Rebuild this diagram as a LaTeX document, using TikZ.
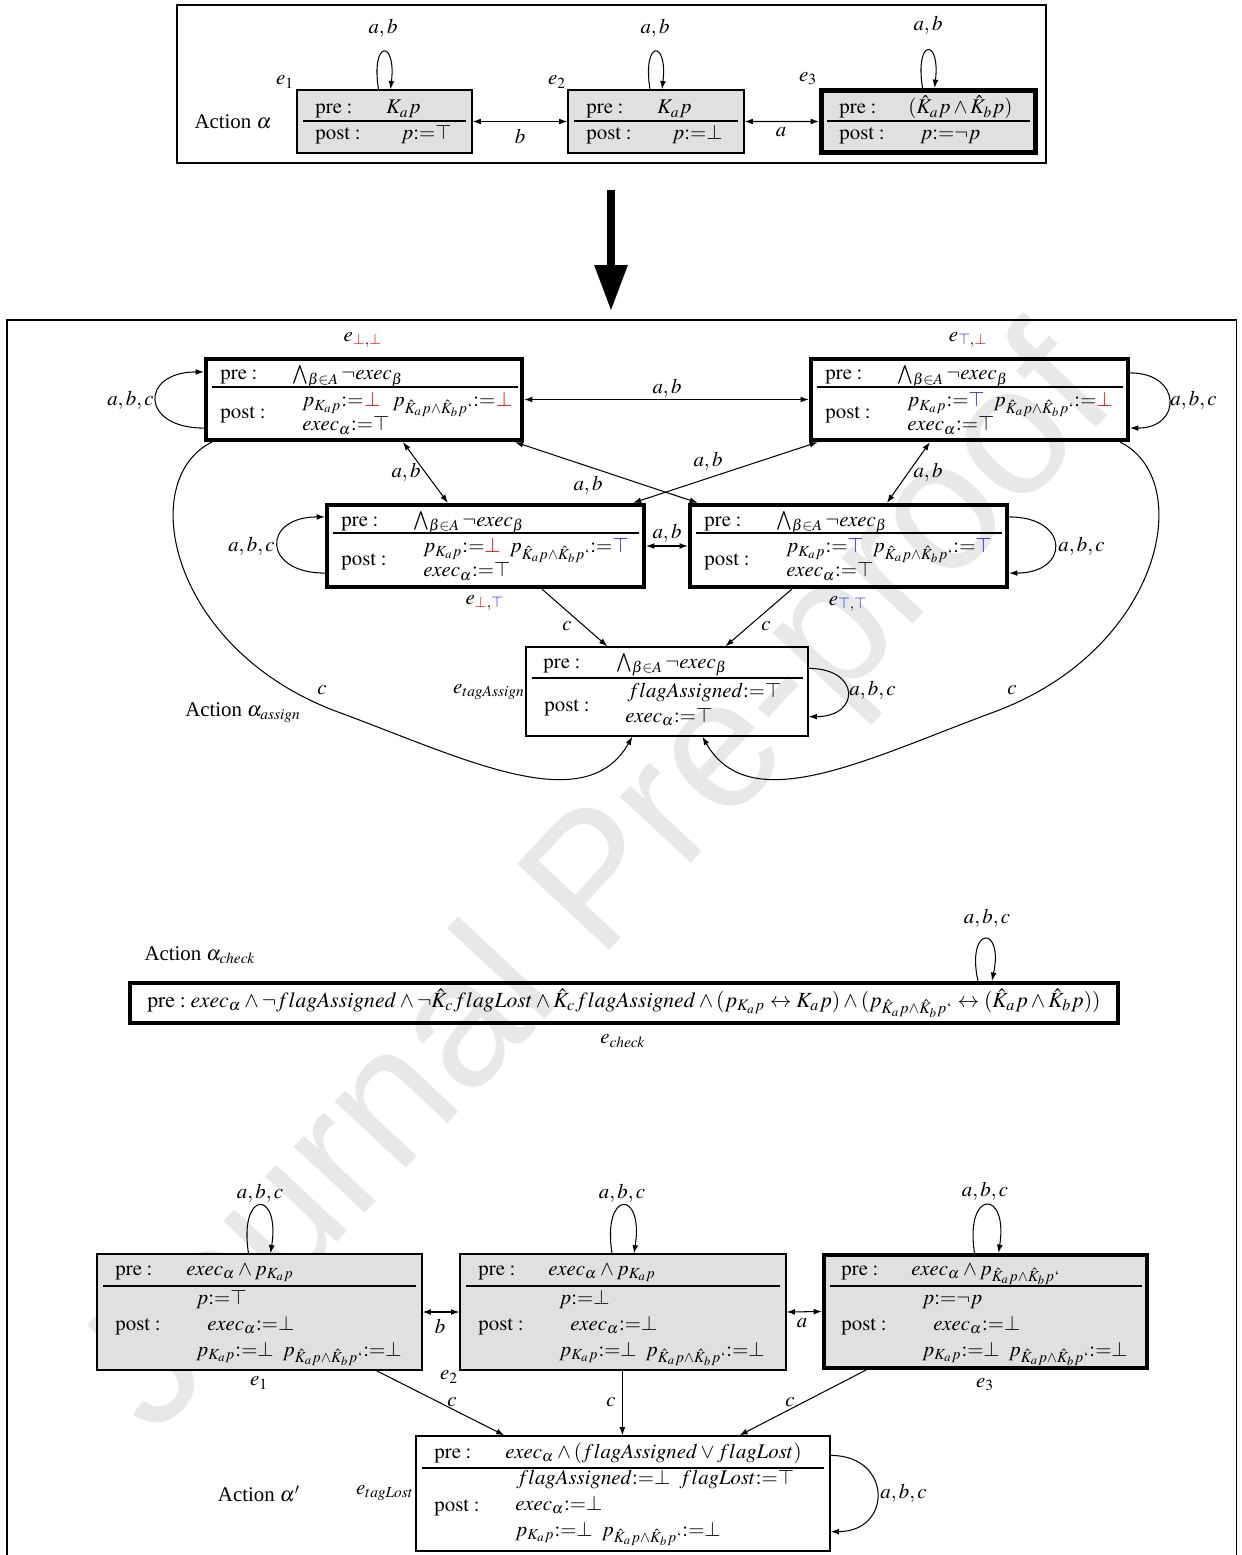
\documentclass[tikz,border=0pt]{standalone}
\usepackage{mathptmx}
\usepackage[no-math]{fontspec}
\setmainfont{Liberation Serif}
\newfontfamily\wmfont{Liberation Sans}
\usetikzlibrary{fit,calc,arrows.meta}
\definecolor{myred}{RGB}{240,0,0}
\definecolor{myblue}{RGB}{30,30,250}
\newcommand{\mypK}{p_{K_a p}}
\newcommand{\mypKK}{p_{\hat{K}_a p\wedge\hat{K}_b p`}}
\newcommand{\myasg}{{:=}}
\newcommand{\rbot}{\mathord{\textcolor{myred}{\bot}}}
\newcommand{\btop}{\mathord{\textcolor{myblue}{\top}}}
\newcommand{\mywedge}{\bigwedge_{\beta\in A}\neg exec_\beta}
\begin{document}
\begin{tikzpicture}[x=0.48pt,y=-0.48pt,
  bx/.style={draw, line width=0.6pt, inner sep=0pt},
  gbx/.style={bx, fill=black!12},
  tbx/.style={draw, line width=2pt, inner sep=0pt},
  ttbx/.style={tbx, fill=black!12},
  tx/.style={anchor=base west, inner sep=0pt},
  lb/.style={inner sep=0pt},
  sepl/.style={line width=0.5pt},
  con/.style={line width=0.5pt, -{Latex[length=4pt,width=2.8pt]}},
  bcon/.style={line width=0.5pt, {Latex[length=4pt,width=2.8pt]}-{Latex[length=4pt,width=2.8pt]}},
]
\useasboundingbox (0,0) rectangle (1241,1555);
% watermark
\node[rotate=47, text=black!9, font=\wmfont\fontsize{88}{88}\selectfont, inner sep=0pt] (wm) at (603,888) {Journal Pre-proof};

% ===== top panel =====
\draw[line width=0.5pt] (177,5) rectangle (1046,163);
\node[gbx, fit={(297,90) (472,153)}] (a1) {};
\node[gbx, fit={(568,90) (744,153)}] (a2) {};
\node[ttbx, line width=2.4pt, fit={(821.5,90.5) (1035.5,152.5)}] (a3) {};
\draw[sepl] (303,121) -- (466,121);
\draw[sepl] (574,121) -- (738,121);
\draw[sepl] (827,121) -- (1030,121);
\node[tx] (a1pre) at (315,114) {$\mathrm{pre}:$};
\node[tx] (a1pf) at (386,114) {$K_a p$};
\node[tx] (a1po) at (315,140) {$\mathrm{post}:$};
\node[tx] (a1pp) at (401,140) {$p\myasg\top$};
\node[tx] (a2pre) at (586,114) {$\mathrm{pre}:$};
\node[tx] (a2pf) at (657,114) {$K_a p$};
\node[tx] (a2po) at (586,140) {$\mathrm{post}:$};
\node[tx] (a2pp) at (672,140) {$p\myasg\bot$};
\node[tx] (a3pre) at (839,114) {$\mathrm{pre}:$};
\node[tx] (a3pf) at (908,114) {$(\hat{K}_a p\wedge\hat{K}_b p)$};
\node[tx] (a3po) at (839,140) {$\mathrm{post}:$};
\node[tx] (a3pp) at (920,140) {$p\myasg\neg p$};
\node[lb] (a1l) at (285,82) {$e_1$};
\node[lb] (a2l) at (557,82) {$e_2$};
\node[lb] (a3l) at (808,79) {$e_3$};
\draw[con] ($(a1.north)+(-6,0)$) .. controls +(-8,-50) and +(6,-50) .. ($(a1.north)+(6,0)$);
\draw[con] ($(a2.north)+(-6,0)$) .. controls +(-8,-50) and +(6,-50) .. ($(a2.north)+(6,0)$);
\draw[con] ($(a3.north)+(-6,0)$) .. controls +(-8,-50) and +(6,-50) .. ($(a3.north)+(6,0)$);
\node[lb] (a1ab) at (383,28) {$a,b$};
\node[lb] (a2ab) at (655,28) {$a,b$};
\node[lb] (a3ab) at (928,25) {$a,b$};
\draw[bcon] (a1.east) -- (a2.west);
\draw[bcon] (a2.east) -- (a3.west);
\node[lb] (a12l) at (520,136) {$b$};
\node[lb] (a23l) at (781,132) {$a$};
\node[lb] (actA) at (233,122) {Action $\alpha$};

% big arrow
\coordinate (bigA) at (611,190);
\coordinate (bigB) at (611,311);
\draw[line width=3.8pt, -{Triangle[length=22pt,width=15pt]}] (bigA) -- (bigB);

% ===== bottom panel =====
\draw[line width=0.5pt] (7,320) rectangle (1236,1570);

% upper group
\node[tbx, fit={(206,359) (522,440)}] (eBB) {};
\node[tbx, fit={(811,359) (1128,440)}] (eTB) {};
\node[tbx, fit={(327,505) (644,587)}] (eBT) {};
\node[tbx, fit={(690,505) (1007,587)}] (eTT) {};
\node[bx, fit={(526,647) (808,736)}] (tA) {};

\node[lb] (bbl) at (363,340) {$e_{\rbot,\rbot}$};
\node[lb] (tbl) at (968,340) {$e_{\btop,\rbot}$};
\node[lb] (btl) at (485,603) {$e_{\rbot,\btop}$};
\node[lb] (ttl) at (848,604) {$e_{\btop,\btop}$};

\draw[sepl] (212,387) -- (518,387);
\node[tx] (bbpre) at (220,380) {$\mathrm{pre}:$};
\node[tx] (bbpf) at (292,380) {$\mywedge$};
\node[tx] (bbpo) at (220,419) {$\mathrm{post}:$};
\node[tx] (bbr1a) at (302,407) {$\mypK\myasg$};
\node[tx, text=myred] (bbr1b) at (bbr1a.base east) {$\bot$};
\node[tx] (bbr1c) at ([xshift=5.5pt]bbr1b.base east) {$\mypKK\myasg$};
\node[tx, text=myred] (bbr1d) at (bbr1c.base east) {$\bot$};
\node[tx] (bbr2) at (302,431) {$exec_\alpha\myasg\top$};

\draw[sepl] (817,387) -- (1123,387);
\node[tx] (tbpre) at (825,380) {$\mathrm{pre}:$};
\node[tx] (tbpf) at (897,380) {$\mywedge$};
\node[tx] (tbpo) at (825,419) {$\mathrm{post}:$};
\node[tx] (tbr1) at (907,407) {$\mypK\myasg\btop\;\;\mypKK\myasg\rbot$};
\node[tx] (tbr2) at (907,431) {$exec_\alpha\myasg\top$};

\draw[sepl] (333,533) -- (639,533);
\node[tx] (btpre) at (341,526) {$\mathrm{pre}:$};
\node[tx] (btpf) at (413,526) {$\mywedge$};
\node[tx] (btpo) at (341,565) {$\mathrm{post}:$};
\node[tx] (btr1) at (423,553) {$\mypK\myasg\rbot\;\;\mypKK\myasg\btop$};
\node[tx] (btr2) at (423,577) {$exec_\alpha\myasg\top$};

\draw[sepl] (696,533) -- (1002,533);
\node[tx] (ttpre) at (704,526) {$\mathrm{pre}:$};
\node[tx] (ttpf) at (776,526) {$\mywedge$};
\node[tx] (ttpo) at (704,565) {$\mathrm{post}:$};
\node[tx] (ttr1) at (786,553) {$\mypK\myasg\btop\;\;\mypKK\myasg\btop$};
\node[tx] (ttr2) at (786,577) {$exec_\alpha\myasg\top$};

\draw[sepl] (532,678) -- (803,678);
\node[tx] (tApre) at (543,668) {$\mathrm{pre}:$};
\node[tx] (tApf) at (616,668) {$\mywedge$};
\node[tx] (tApo) at (544,711) {$\mathrm{post}:$};
\node[tx] (tAr1) at (627,697) {$flagAssigned\myasg\top$};
\node[tx] (tAr2) at (625,722) {$exec_\alpha\myasg\top$};
\node[lb] (tAl) at (489,692) {$e_{tagAssign}$};

% loops
\draw[con] ($(eBB.south west)+(0,-14)$) .. controls +(-64,0) and +(-64,0) .. ($(eBB.north west)+(0,15)$);
\node[lb, anchor=east] (bbab) at (154,400) {$a,b,c$};
\draw[con] ($(eTB.north east)+(0,16)$) .. controls +(52,0) and +(52,0) .. ($(eTB.south east)+(0,-14)$);
\node[lb, anchor=west] (tbab) at (1170,400) {$a,b,c$};
\draw[con] ($(eBT.south west)+(0,-16)$) .. controls +(-63,0) and +(-63,0) .. ($(eBT.north west)+(0,14)$);
\node[lb, anchor=east] (btab) at (275,546) {$a,b,c$};
\draw[con] ($(eTT.north east)+(0,14)$) .. controls +(61,0) and +(61,0) .. ($(eTT.south east)+(0,-16)$);
\node[lb, anchor=west] (ttab) at (1058,546) {$a,b,c$};
\draw[con] ($(tA.north east)+(0,22)$) .. controls +(52,0) and +(52,0) .. ($(tA.south east)+(0,-20)$);
\node[lb, anchor=west] (tAab) at (849,690) {$a,b,c$};

% edges
\draw[bcon] (eBB.east) -- (eTB.west);
\node[lb] (e1ab) at (667,388) {$a,b$};
\draw[bcon] (eBT.east) -- (eTT.west);
\node[lb] (e2ab) at (667,533) {$a,b$};
\draw[bcon] ($(eBB.south west)+(199,0)$) -- ($(eBT.north west)+(123,0)$);
\node[lb] (e3ab) at (406,472) {$a,b$};
\draw[bcon] ($(eTB.south west)+(121,0)$) -- ($(eTT.north west)+(199,0)$);
\node[lb] (e4ab) at (928,472) {$a,b$};
\draw[bcon] ($(eBB.south west)+(311,0)$) -- ($(eTT.north west)+(10,0)$);
\node[lb] (e5ab) at (588,485) {$a,b$};
\draw[bcon] ($(eTB.south west)+(9,0)$) -- ($(eBT.north west)+(308,0)$);
\node[lb] (e6ab) at (708,461) {$a,b$};
\draw[con] ($(eBT.south west)+(217,0)$) -- ($(tA.north west)+(82,0)$);
\node[lb] (e7c) at (567,626) {$c$};
\draw[con] ($(eTT.south west)+(104,0)$) -- ($(tA.north west)+(200,0)$);
\node[lb] (e8c) at (766,626) {$c$};
\draw[con] ($(eBB.south west)+(8,0)$) .. controls (135,480) and (170,650) .. (338,712) .. controls (464,758.5) and (585,820) .. ($(tA.south west)+(107,0)$);
\node[lb] (e9c) at (322,690) {$c$};
\draw[con] ($(eTB.south east)+(-10,0)$) .. controls (1197,480) and (1162,650) .. (994,712) .. controls (868,758.5) and (750,820) .. ($(tA.south west)+(177,0)$);
\node[lb] (e10c) at (1012,690) {$c$};
\node[lb] (actAs) at (243,713) {Action $\alpha_{assign}$};

% check
\node[lb] (actCh) at (200,955) {Action $\alpha_{check}$};
\node[tbx, fit={(130,983) (1118,1023)}] (ec) {};
\node[lb, font=\fontsize{10.4}{12.5}\selectfont] (ect) at (ec.center) {$\mathrm{pre}: exec_\alpha\wedge\neg flagAssigned\wedge\neg\hat{K}_c flagLost\wedge\hat{K}_c flagAssigned\wedge(\mypK\leftrightarrow K_a p)\wedge(\mypKK\leftrightarrow(\hat{K}_a p\wedge\hat{K}_b p))$};
\draw[con] ($(ec.north west)+(850,0)$) .. controls +(-12,-56) and +(12,-56) .. ($(ec.north west)+(864,0)$);
\node[lb] (ecab) at (987,918) {$a,b,c$};
\node[lb] (ecl) at (623,1041) {$e_{check}$};

% lower group
\node[gbx, fit={(97,1254) (422,1370)}] (b1) {};
\node[gbx, fit={(460,1254) (786,1370)}] (b2) {};
\node[ttbx, fit={(824,1255) (1147,1368)}] (b3) {};
\node[bx, fit={(416,1436) (830,1551)}] (tL) {};

\draw[sepl] (103,1286) -- (416,1286);
\node[tx] (b1pre) at (115,1275) {$\mathrm{pre}:$};
\node[tx] (b1pf) at (186,1275) {$exec_\alpha\wedge\mypK$};
\node[tx] (b1r1) at (196,1304) {$p\myasg\top$};
\node[tx] (b1po) at (115,1330) {$\mathrm{post}:$};
\node[tx] (b1r2) at (207,1330) {$exec_\alpha\myasg\bot$};
\node[tx] (b1r3) at (196,1356) {$\mypK\myasg\bot\;\;\mypKK\myasg\bot$};
\node[lb] (b1l) at (259,1383) {$e_1$};

\draw[sepl] (466,1286) -- (780,1286);
\node[tx] (b2pre) at (478,1275) {$\mathrm{pre}:$};
\node[tx] (b2pf) at (548,1275) {$exec_\alpha\wedge\mypK$};
\node[tx] (b2r1) at (559,1304) {$p\myasg\bot$};
\node[tx] (b2po) at (478,1330) {$\mathrm{post}:$};
\node[tx] (b2r2) at (570,1330) {$exec_\alpha\myasg\bot$};
\node[tx] (b2r3) at (559,1356) {$\mypK\myasg\bot\;\;\mypKK\myasg\bot$};
\node[lb] (b2l) at (449,1377) {$e_2$};

\draw[sepl] (830,1286) -- (1142,1286);
\node[tx] (b3pre) at (841,1275) {$\mathrm{pre}:$};
\node[tx] (b3pf) at (911,1275) {$exec_\alpha\wedge\mypKK$};
\node[tx] (b3r1) at (922,1304) {$p\myasg\neg p$};
\node[tx] (b3po) at (841,1330) {$\mathrm{post}:$};
\node[tx] (b3r2) at (933,1330) {$exec_\alpha\myasg\bot$};
\node[tx] (b3r3) at (922,1356) {$\mypK\myasg\bot\;\;\mypKK\myasg\bot$};
\node[lb] (b3l) at (985,1385) {$e_3$};

\draw[sepl] (422,1468) -- (824,1468);
\node[tx] (tLpre) at (434,1458) {$\mathrm{pre}:$};
\node[tx] (tLpf) at (505,1458) {$exec_\alpha\wedge(flagAssigned\vee flagLost)$};
\node[tx] (tLr1) at (516,1484) {$flagAssigned\myasg\bot\;\;flagLost\myasg\top$};
\node[tx] (tLpo) at (434,1511) {$\mathrm{post}:$};
\node[tx] (tLr2) at (515,1510) {$exec_\alpha\myasg\bot$};
\node[tx] (tLr3) at (515,1536) {$\mypK\myasg\bot\;\;\mypKK\myasg\bot$};
\node[lb] (tLl) at (385,1493) {$e_{tagLost}$};
\node[lb] (actP) at (259,1494) {Action $\alpha'$};

\draw[con] ($(b1.north)+(-11,0)$) .. controls +(-10,-64) and +(10,-64) .. ($(b1.north)+(11,0)$);
\node[lb] (b1ab) at (260,1193) {$a,b,c$};
\draw[con] ($(b2.north)+(-11,0)$) .. controls +(-10,-64) and +(10,-64) .. ($(b2.north)+(11,0)$);
\node[lb] (b2ab) at (622,1193) {$a,b,c$};
\draw[con] ($(b3.north)+(-11,0)$) .. controls +(-10,-64) and +(10,-64) .. ($(b3.north)+(13,0)$);
\node[lb] (b3ab) at (985,1191) {$a,b,c$};
\draw[con] ($(tL.north east)+(0,20)$) .. controls +(62,0) and +(62,0) .. ($(tL.south east)+(0,-20)$);
\node[lb, anchor=west] (tLab) at (880,1493) {$a,b,c$};

\draw[bcon] (b1.east) -- (b2.west);
\node[lb] (f1l) at (440,1326) {$b$};
\draw[bcon] (b2.east) -- (b3.west);
\node[lb] (f2l) at (802,1323) {$a$};
\draw[con] ($(b1.south west)+(280,0)$) -- ($(tL.north west)+(89,0)$);
\node[lb] (f3l) at (452,1402) {$c$};
\draw[con] ($(b2.south west)+(163,0)$) -- ($(tL.north west)+(207,0)$);
\node[lb] (f4l) at (611,1402) {$c$};
\draw[con] ($(b3.south west)+(44,0)$) -- ($(tL.north west)+(324,0)$);
\node[lb] (f5l) at (790,1402) {$c$};
\end{tikzpicture}
\end{document}
